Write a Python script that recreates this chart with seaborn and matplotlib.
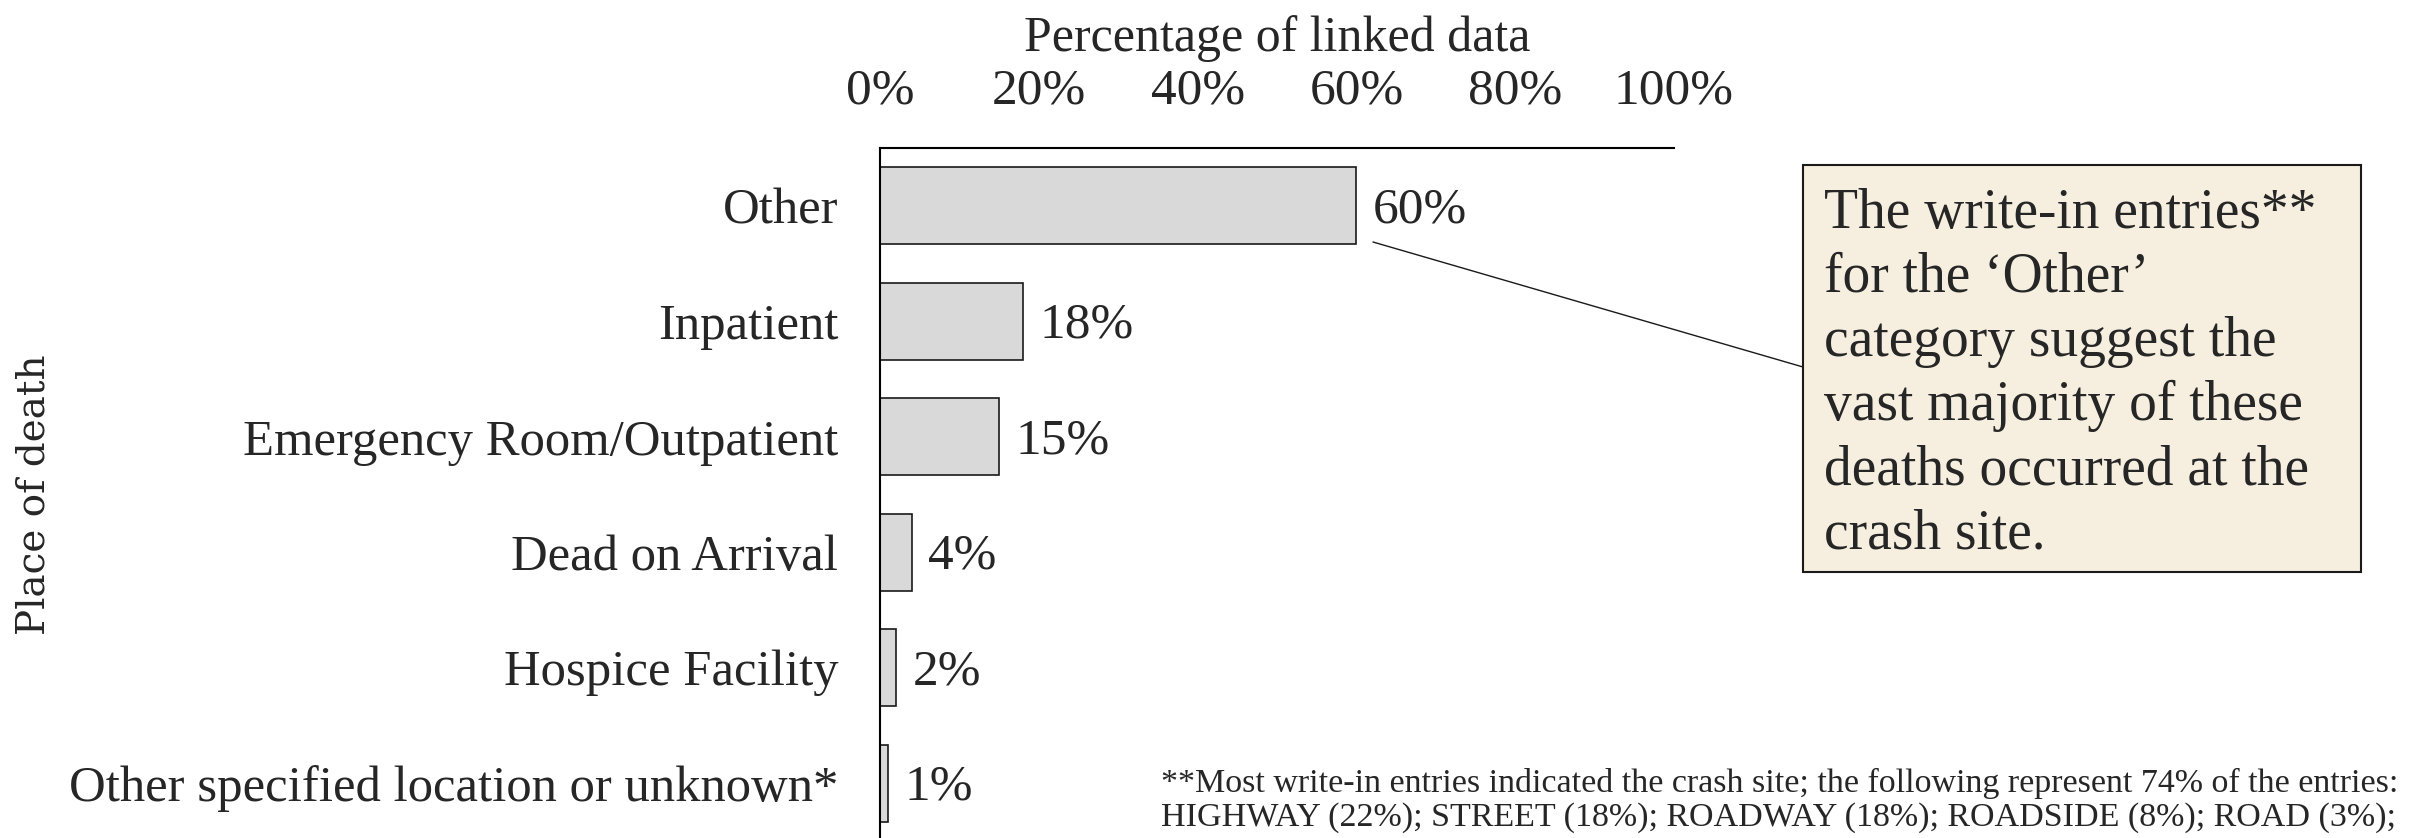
import matplotlib
matplotlib.use("Agg")
import matplotlib.pyplot as plt
from matplotlib.patches import Rectangle
from matplotlib.lines import Line2D
from matplotlib.ticker import FuncFormatter
import seaborn as sns
import pandas as pd

# Place of death for linked records, share of linked data (%)
places = [
    "Other",
    "Inpatient",
    "Emergency Room/Outpatient",
    "Dead on Arrival",
    "Hospice Facility",
    "Other specified location or unknown*",
]
shares = [60, 18, 15, 4, 2, 1]
x_ticks = [0, 20, 40, 60, 80, 100]

callout_text = ("The write-in entries**\nfor the \u2018Other\u2019\ncategory suggest the\n"
                "vast majority of these\ndeaths occurred at the\ncrash site.")
footnote_lines = [
    "**Most write-in entries indicated the crash site; the following represent 74% of the entries:",
    "HIGHWAY (22%); STREET (18%); ROADWAY (18%); ROADSIDE (8%); ROAD (3%);",
]

sns.set_theme(style="white")
plt.rcParams["font.family"] = ["Liberation Serif", "DejaVu Serif"]

df = pd.DataFrame({"place": places, "share": shares})

W, H = 2417, 838
fig = plt.figure(figsize=(W / 100, H / 100), dpi=100)
ax = fig.add_axes([880 / W, (H - 841) / H, 794 / W, (841 - 148) / H])

sns.barplot(data=df, y="place", x="share", orient="h", ax=ax,
            color="#d9d9d9", edgecolor="#1a1a1a", linewidth=1.2,
            width=0.667, saturation=1)

ax.set_xlim(0, 100)
ax.set_ylim(5.5, -0.5)
ax.set_xticks(x_ticks)
ax.xaxis.set_major_formatter(FuncFormatter(lambda v, p: f"{v:.0f}%"))
ax.xaxis.tick_top()
ax.xaxis.set_label_position("top")
ax.tick_params(axis="x", length=0, pad=24, labelsize=37)
ax.tick_params(axis="y", length=0, pad=30, labelsize=36.5)
ax.set_xlabel("Percentage of linked data", fontsize=36, labelpad=12)
ax.set_ylabel("")

for side in ("bottom", "right"):
    ax.spines[side].set_visible(False)
for side in ("top", "left"):
    ax.spines[side].set_visible(True)
    ax.spines[side].set_color("#000000")
    ax.spines[side].set_linewidth(1.5)

for i, v in enumerate(shares):
    ax.annotate(f"{v}%", xy=(v, i), xytext=(12, -3), textcoords="offset points",
                va="center", ha="left", fontsize=37)

fig.text(34 / W, 1 - 495 / H, "Place of death", rotation=90,
         ha="center", va="center", fontsize=28, family=["DejaVu Serif"])

# callout box
fig.add_artist(Rectangle((1803 / W, 1 - 572 / H), 558 / W, 407 / H,
                         transform=fig.transFigure, facecolor="#f6efdf",
                         edgecolor="#1a1a1a", linewidth=1.5))
fig.text(1824 / W, 1 - 188 / H, callout_text, ha="left", va="top",
         fontsize=40, linespacing=1.3)
fig.add_artist(Line2D([1373 / W, 1803 / W], [1 - 242 / H, 1 - 367 / H],
                      transform=fig.transFigure, color="#1a1a1a", linewidth=1.0))

# footnote
fig.text(1161 / W, 1 - 783 / H, footnote_lines[0], ha="left", va="center", fontsize=24.5)
fig.text(1161 / W, 1 - 818 / H, footnote_lines[1], ha="left", va="center", fontsize=24.5)

fig.savefig("out.png", dpi=100)
